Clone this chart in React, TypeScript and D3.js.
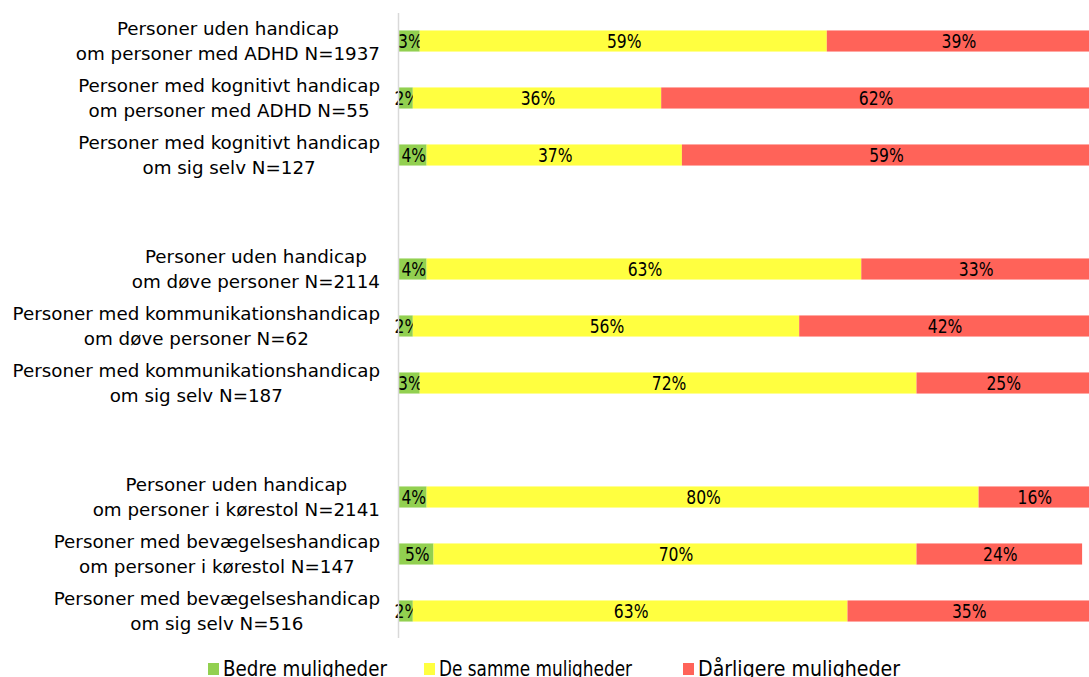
import React, { useEffect, useRef } from 'react';
import * as d3 from 'd3';

// row labels, two lines each; empty rows are the gaps between groups
const line1 = [
  'Personer uden handicap', 'Personer med kognitivt handicap', 'Personer med kognitivt handicap', '',
  'Personer uden handicap', 'Personer med kommunikationshandicap', 'Personer med kommunikationshandicap', '',
  'Personer uden handicap', 'Personer med bevægelseshandicap', 'Personer med bevægelseshandicap',
];
const line2 = [
  'om personer med ADHD N=1937', 'om personer med ADHD N=55', 'om sig selv N=127', '',
  'om døve personer N=2114', 'om døve personer N=62', 'om sig selv N=187', '',
  'om personer i kørestol N=2141', 'om personer i kørestol N=147', 'om sig selv N=516',
];

const seriesNames = ['Bedre muligheder', 'De samme muligheder', 'Dårligere muligheder'];
const colors = ['#92d050', '#ffff40', '#ff6359'];

const bedre = [3, 2, 4, null, 4, 2, 3, null, 4, 5, 2];
const samme = [59, 36, 37, null, 63, 56, 72, null, 80, 70, 63];
const daarligere = [39, 62, 59, null, 33, 42, 25, null, 16, 24, 35];

const W = 1089;
const H = 677;

const App = () => {
  const ref = useRef<SVGSVGElement>(null);

  useEffect(() => {
    const svg = d3.select(ref.current);
    svg.selectAll('*').remove();

    const rows = d3.range(line1.length);
    const x = d3.scaleLinear().domain([0, 100]).range([399, 1089]);
    const y = d3.scaleBand<number>().domain(rows).range([12.5, 639.5]).paddingInner(0.63).paddingOuter(0.315);

    const plot = svg.append('g');

    rows.forEach((i) => {
      if (bedre[i] == null) return;
      const vals = [bedre[i], samme[i], daarligere[i]] as number[];
      let acc = 0;
      vals.forEach((v, k) => {
        const x0 = x(acc);
        const x1 = x(acc + v);
        acc += v;
        plot.append('rect')
          .attr('x', x0)
          .attr('y', y(i)!)
          .attr('width', Math.max(0, x1 - x0))
          .attr('height', y.bandwidth())
          .attr('fill', colors[k]);
        // condensed look: squeeze the glyphs horizontally
        plot.append('g')
          .attr('transform', `translate(${(x0 + Math.min(x1, W)) / 2 + 1},${y(i)! + y.bandwidth() / 2}) scale(0.8,1)`)
          .append('text')
          .attr('dy', '0.36em')
          .attr('text-anchor', 'middle')
          .attr('font-family', 'DejaVu Sans')
          .attr('font-size', 19.5)
          .attr('fill', '#000')
          .text(v + '%');
      });
    });

    // axis line
    svg.append('line')
      .attr('x1', 398.5).attr('x2', 398.5)
      .attr('y1', 13).attr('y2', 638)
      .attr('stroke', '#d9d9d9')
      .attr('stroke-width', 1.5);

    // category labels: lines centred on each other, block right aligned
    const labels = svg.append('g')
      .attr('font-family', 'DejaVu Sans')
      .attr('font-size', 18.3)
      .attr('fill', '#000');
    rows.forEach((i) => {
      if (!line1[i]) return;
      const cy = y(i)! + y.bandwidth() / 2;
      const t1 = labels.append('text').attr('y', cy - 12.5).attr('dy', '0.35em').attr('text-anchor', 'middle').text(line1[i]);
      const t2 = labels.append('text').attr('y', cy + 12.5).attr('dy', '0.35em').attr('text-anchor', 'middle').text(line2[i]);
      const w = Math.max(
        (t1.node() as SVGTextElement).getComputedTextLength(),
        (t2.node() as SVGTextElement).getComputedTextLength(),
      );
      const cx = 380 - w / 2;
      t1.attr('x', cx);
      t2.attr('x', cx);
    });

    // legend (sits at the very bottom, partly cut like the original)
    const legendX = [208, 424, 683];
    const legendW = [164, 193, 202];
    const legend = svg.append('g')
      .attr('font-family', 'DejaVu Sans')
      .attr('font-size', 21.5);
    seriesNames.forEach((name, k) => {
      legend.append('rect')
        .attr('x', legendX[k]).attr('y', 663)
        .attr('width', 11).attr('height', 12)
        .attr('fill', colors[k]);
      legend.append('text')
        .attr('x', legendX[k] + 15).attr('y', 676)
        .attr('textLength', legendW[k])
        .attr('lengthAdjust', 'spacingAndGlyphs')
        .attr('fill', '#000')
        .text(name);
    });
  }, []);

  return (
    <svg ref={ref} width={W} height={H} style={{ position: 'absolute', left: 0, top: 0, background: '#fff' }} />
  );
};

export default App;
